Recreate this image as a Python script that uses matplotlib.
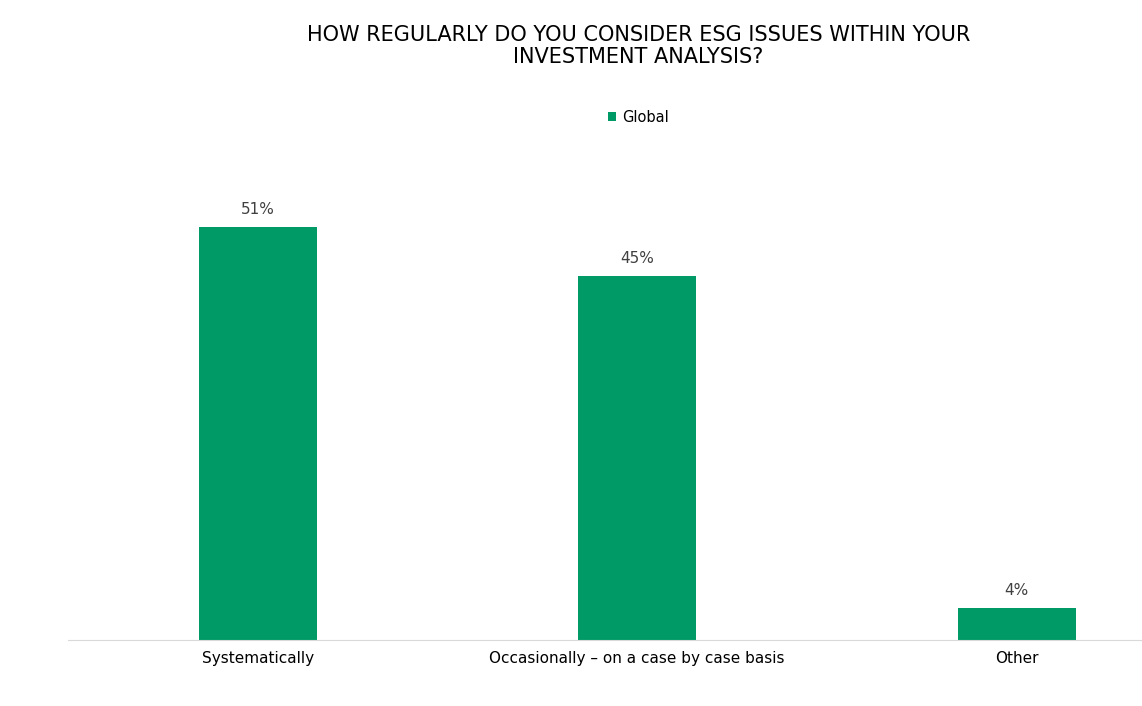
import matplotlib
matplotlib.use("Agg")
import matplotlib.pyplot as plt

categories = ["Systematically", "Occasionally \u2013 on a case by case basis", "Other"]
values = [51, 45, 4]
series_name = "Global"

fig = plt.figure(figsize=(11.42, 7.06), dpi=100)
ax = fig.add_axes([0.0595, 0.0935, 0.9405, 0.694])

x = range(len(categories))
ax.bar(x, values, width=0.31, color="#009a66", label=series_name)
for xi, v in zip(x, values):
    ax.text(xi, v + 1.2, f"{v}%", ha="center", va="bottom", fontsize=11, color="#404040")

ax.set_xlim(-0.5, 2.33)
ax.set_ylim(0, 60.5)
ax.set_xticks(list(x))
ax.set_xticklabels(categories, fontsize=11)
ax.tick_params(axis="x", length=0, pad=8)
ax.set_yticks([])
for s in ["top", "right", "left"]:
    ax.spines[s].set_visible(False)
ax.spines["bottom"].set_color("#d9d9d9")

fig.text(0.559, 0.935, "HOW REGULARLY DO YOU CONSIDER ESG ISSUES WITHIN YOUR\nINVESTMENT ANALYSIS?",
         ha="center", va="center", fontsize=15, linespacing=1.1)
fig.legend(loc="center", bbox_to_anchor=(0.559, 0.834), frameon=False, fontsize=10.5,
           handlelength=0.6, handleheight=0.6, handletextpad=0.4)

fig.savefig("out.png", dpi=100, facecolor="white")
